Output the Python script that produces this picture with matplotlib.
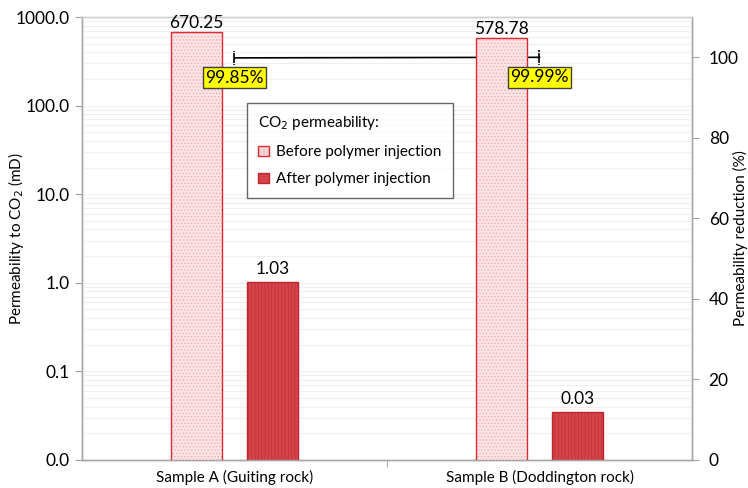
import matplotlib
matplotlib.use("Agg")
import matplotlib.pyplot as plt
from matplotlib.ticker import FixedLocator, FuncFormatter, LogLocator, NullFormatter
from matplotlib.patches import Patch
import numpy as np

plt.rcParams['font.family'] = ['Lato', 'DejaVu Sans']
plt.rcParams['hatch.linewidth'] = 0.6

categories = ["Sample A (Guiting rock)", "Sample B (Doddington rock)"]
before = [670.25, 578.78]
after = [1.03, 0.0345]
reduction = [99.85, 99.99]
reduction_err = [1.8, 1.8]
left_ticks = [0.01, 0.1, 1, 10, 100, 1000]
right_ticks = [0, 20, 40, 60, 80, 100]

NUM = 12.5
TXT = 11

fig = plt.figure(figsize=(7.48, 4.88), dpi=100)
ax = fig.add_axes([82/748, 1-460/488, 610/748, 443/488])
ax2 = ax.twinx()
ax.set_zorder(ax2.get_zorder()+1)
ax.patch.set_visible(False)

x = np.arange(len(categories))
w = 0.167
off = 0.125
base = 1e-4

ax.bar(x - off, before, w, bottom=base, color='#fbe4e6', edgecolor='#f2aab0',
       hatch='.....', linewidth=0, zorder=2)
ax.bar(x - off, before, w, bottom=base, fill=False, edgecolor='#e02a30',
       linewidth=1.0, zorder=3)
ax.bar(x + off, after, w, bottom=base, color='#d4444a', edgecolor='#c23238',
       hatch='|||||', linewidth=0, zorder=2)
ax.bar(x + off, after, w, bottom=base, fill=False, edgecolor='#c0252b',
       linewidth=1.0, zorder=3)

for xi, v in zip(x - off, before):
    ax.annotate(f"{v:.2f}", (xi, v), xytext=(0, 1), textcoords='offset pixels',
                ha='center', va='bottom', fontsize=NUM)
for xi, v in zip(x + off, after):
    ax.annotate(f"{v:.2f}", (xi, v), xytext=(0, 5), textcoords='offset pixels',
                ha='center', va='bottom', fontsize=NUM)

ax.set_yscale('log')
ax.set_ylim(0.01, 1000)
ax.set_xlim(-0.5, 1.5)
ax.yaxis.set_major_locator(FixedLocator(left_ticks))
ax.yaxis.set_major_formatter(FuncFormatter(lambda v, p: f"{v:.1f}"))
ax.yaxis.set_minor_locator(LogLocator(base=10, subs=np.arange(2, 10)))
ax.yaxis.set_minor_formatter(NullFormatter())
ax.tick_params(axis='y', which='minor', length=0)
ax.tick_params(axis='y', which='major', length=5, color='#a0a0a0', labelsize=NUM, pad=4)
ax.grid(True, axis='y', which='both', color='#efefef', linewidth=0.8, zorder=0)
ax.set_axisbelow(True)

ax.set_xticks(x)
ax.set_xticklabels(categories, fontsize=TXT)
ax.set_xticks([0.5], minor=True)
ax.tick_params(axis='x', which='major', length=0, pad=7)
ax.tick_params(axis='x', which='minor', length=5, color='#a0a0a0')

ax.set_ylabel("Permeability to CO$_2$ (mD)", fontsize=TXT)
ax.yaxis.set_label_coords(-56/610, 0.5)

for a in (ax, ax2):
    for s in a.spines.values():
        s.set_color('#a6a6a6')
        s.set_linewidth(1.0)
    a.spines['top'].set_color('#d0d0d0')

ax2.set_ylim(0, 110)
ax2.set_yticks(right_ticks)
ax2.tick_params(axis='y', length=5, color='#a0a0a0', labelsize=NUM, pad=7)
ax2.set_ylabel("Permeability reduction (%)", fontsize=TXT, rotation=90)
ax2.yaxis.set_label_coords(1 + 41/610, 0.5)

ax2.errorbar(x, reduction, yerr=reduction_err, color='black', linewidth=1.2,
             capsize=0, elinewidth=1.2, zorder=5)
for xi, r in zip(x, reduction):
    ax.annotate(f"{r:.2f}%", (xi, r), xycoords=ax2.transData, xytext=(0, -20),
                textcoords='offset pixels', ha='center', va='center', fontsize=NUM,
                zorder=12,
                bbox=dict(boxstyle='square,pad=0.15', fc='#ffff00', ec='#404040', lw=1))

handles = [Patch(facecolor='#f8d0d4', edgecolor='#e02a30', label='Before polymer injection'),
           Patch(facecolor='#d4444a', edgecolor='#c0252b', label='After polymer injection')]
leg = ax.legend(handles=handles, title="CO$_2$ permeability:", loc='upper left',
                bbox_to_anchor=(165/610, 357/443), borderaxespad=0,
                fontsize=TXT, title_fontsize=TXT,
                frameon=True, fancybox=False, edgecolor='#404040',
                handlelength=0.7, handleheight=0.7, handletextpad=0.45,
                labelspacing=0.85, borderpad=0.75, alignment='left')
leg.get_frame().set_linewidth(1.0)
leg.set_zorder(10)

fig.savefig("out.png", dpi=100)
